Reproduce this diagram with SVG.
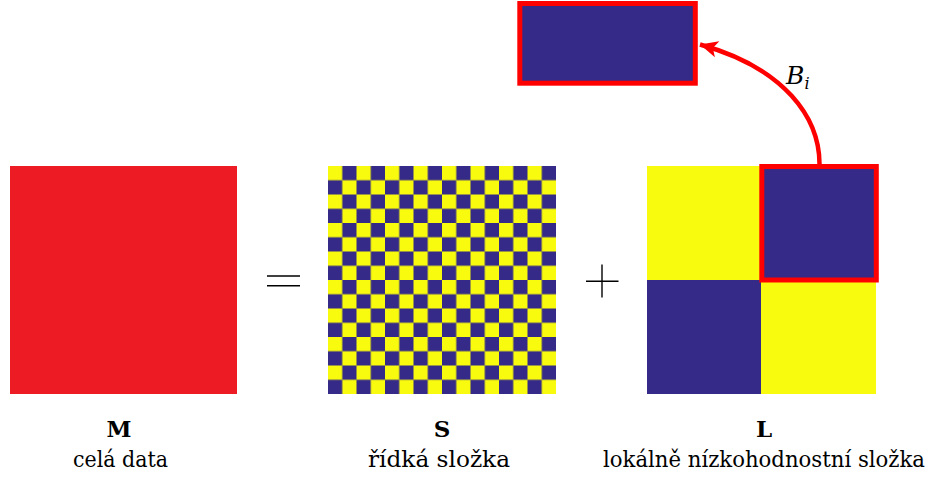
<svg xmlns="http://www.w3.org/2000/svg" width="934" height="477" viewBox="0 0 934 477">
<style>
.lbl{font-family:"DejaVu Serif","Liberation Serif",serif;font-size:23px;fill:#000;text-anchor:middle}
.bold{font-weight:bold}
.navy{fill:#352A87}
.yel{fill:#F9FB0E}
.frame{fill:none;stroke:#FF0000;stroke-width:5}
.op{stroke:#000;stroke-width:1.4;fill:none}
.math{font-family:"DejaVu Serif","Liberation Serif",serif;font-style:italic;font-size:25px;fill:#000}
</style>
<defs>
<pattern id="chk" patternUnits="userSpaceOnUse" x="328" y="166" width="28.5" height="28.5">
<rect width="28.5" height="28.5" fill="#F9FB0E"/>
<rect x="14.25" y="0" width="14.25" height="14.25" fill="#352A87"/>
<rect x="0" y="14.25" width="14.25" height="14.25" fill="#352A87"/>
</pattern>
<marker id="ah" markerUnits="userSpaceOnUse" markerWidth="24" markerHeight="20" viewBox="-18 -9 20 18" refX="0" refY="0" orient="auto">
<path d="M0 0 L-16 -7.5 L-12 0 L-16 7.5 Z" fill="#FF0000"/>
</marker>
</defs>
<g id="M">
<rect x="10" y="166" width="227" height="228" fill="#ED1C24"/>
<text class="lbl bold" x="119" y="437" textLength="25" lengthAdjust="spacingAndGlyphs">M</text>
<text class="lbl" x="120.5" y="467" textLength="95" lengthAdjust="spacingAndGlyphs">celá data</text>
</g>
<g id="equals">
<line class="op" x1="267" y1="276" x2="300" y2="276"/>
<line class="op" x1="267" y1="285.7" x2="300" y2="285.7"/>
</g>
<g id="S">
<rect x="328" y="166" width="228" height="228" fill="url(#chk)"/>
<text class="lbl bold" x="442" y="437">S</text>
<text class="lbl" x="439" y="467" textLength="142" lengthAdjust="spacingAndGlyphs">řídká složka</text>
</g>
<g id="plus">
<line class="op" x1="586" y1="281.3" x2="618.5" y2="281.3"/>
<line class="op" x1="602" y1="264.5" x2="602" y2="297.5"/>
</g>
<g id="L">
<rect class="yel" x="647" y="166" width="114" height="114"/>
<rect class="navy" x="761" y="166" width="115" height="114"/>
<rect class="navy" x="647" y="280" width="114" height="114"/>
<rect class="yel" x="761" y="280" width="115" height="114"/>
<rect class="frame" x="761.8" y="166.5" width="114.5" height="113.5"/>
<text class="lbl bold" x="764" y="437">L</text>
<text class="lbl" x="764" y="467" textLength="322" lengthAdjust="spacingAndGlyphs">lokálně nízkohodnostní složka</text>
</g>
<g id="Bi">
<rect class="navy" x="520" y="3.5" width="175" height="80"/>
<rect class="frame" x="519.8" y="3.5" width="175.5" height="79.7"/>
</g>
<g id="connectors">
<path d="M819.5 164 C819.5 118 785 68 700 44.5" fill="none" stroke="#FF0000" stroke-width="4.5" marker-end="url(#ah)"/>
<text class="math" x="786" y="84">B<tspan font-size="16" dy="4.5">i</tspan></text>
</g>
</svg>
